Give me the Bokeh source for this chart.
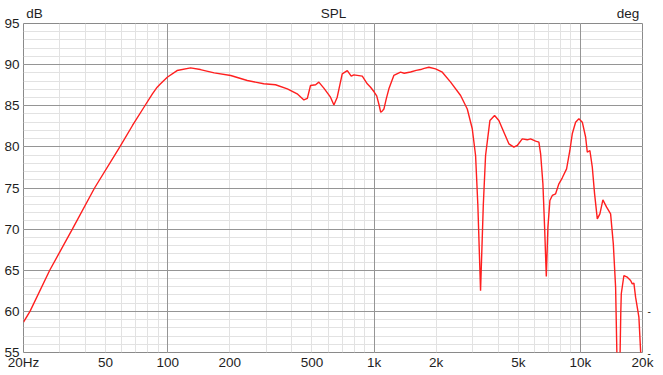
from bokeh.plotting import figure
from bokeh.models import (Range1d, LogScale, Grid, FixedTicker, LinearAxis, LogAxis)
from bokeh.embed import file_html
from bokeh.resources import INLINE

# ---- data ----
freq_hz = [20, 21.5, 26.8, 34.5, 44.2, 58.6, 67.5, 77.5, 84.3, 88.9, 92.3, 99.5, 111, 129, 144, 168,
           202, 243, 292, 333, 380, 424, 457, 475, 492, 521, 540, 571, 615, 639, 663, 701, 742,
           775, 798, 877, 927, 962, 1000, 1030, 1060, 1077, 1100, 1116, 1145, 1180, 1247, 1344,
           1400, 1503, 1600, 1681, 1750, 1844, 1987, 2142, 2350, 2627, 2830, 2992, 3105, 3185,
           3282, 3384, 3471, 3643, 3838, 4026, 4258, 4502, 4760, 4944, 5228, 5528, 5736, 6066,
           6294, 6416, 6582, 6708, 6836, 6960, 7116, 7310, 7584, 7868, 8172, 8572, 8892, 9134,
           9480, 9834, 10216, 10600, 10802, 11118, 11422, 11718, 12078, 12432, 12854, 13398,
           14010, 14440, 14814, 15050, 15250, 15500, 15700, 15784, 16250, 16878, 17512, 17846,
           18168, 18516, 19210, 19580, 20000]
spl_db = [58.7, 60.0, 65.0, 70.0, 75.0, 80.0, 82.6, 85.0, 86.45, 87.26, 87.67, 88.47, 89.28, 89.6,
          89.4, 89.0, 88.68, 88.07, 87.67, 87.55, 87.06, 86.45, 85.7, 85.9, 87.46, 87.55, 87.87,
          87.14, 86.04, 85.1, 86.04, 88.88, 89.28, 88.6, 88.76, 88.6, 87.67, 87.25, 86.7, 86.2,
          85.0, 84.2, 84.4, 84.6, 85.8, 87.06, 88.68, 89.08, 88.95, 89.1, 89.3, 89.4, 89.55, 89.68,
          89.49, 89.08, 87.87, 86.25, 84.6, 82.2, 78.95, 72.9, 62.5, 72.9, 78.95, 83.2, 83.81,
          83.2, 81.78, 80.37, 79.96, 80.17, 80.98, 80.86, 80.98, 80.69, 80.57, 79.16, 75.51,
          70.23, 64.24, 70.23, 73.48, 74.09, 74.29, 75.51, 76.24, 77.33, 79.56, 81.59, 83.0,
          83.41, 83.0, 81.2, 79.35, 79.56, 77.53, 74.29, 71.25, 71.86, 73.56, 72.67, 71.86,
          68.21, 62.94, 54.0, 48.0, 52.0, 60.0, 62.14, 64.36, 64.15, 63.75, 63.35, 63.43, 61.73,
          59.3, 55.2, 52.0]

y_ticks = [55, 60, 65, 70, 75, 80, 85, 90, 95]
y_tick_labels = ["55", "60", "65", "70", "75", "80", "85", "90", "95"]
x_ticks = [20, 50, 100, 200, 500, 1000, 2000, 5000, 10000, 20000]
x_tick_labels = ["20Hz", "50", "100", "200", "500", "1k", "2k", "5k", "10k", "20k"]
x_major_grid = [100, 1000, 10000]
x_minor_grid = [30, 40, 50, 60, 70, 80, 90, 200, 300, 400, 500, 600, 700, 800, 900,
                2000, 3000, 4000, 5000, 6000, 7000, 8000, 9000]
y_major_grid = [60, 65, 70, 75, 80, 85, 90]
y_minor_grid = [v for v in range(56, 95) if v % 5 != 0]
title_text = "SPL"
left_unit = "dB"
right_unit = "deg"
right_marks = [55, 60]

FONT = "Liberation Sans"
FS = "13.5px"
TXT = "#1e1e1e"

p = figure(frame_width=619, frame_height=329,
           x_range=Range1d(20, 20000), y_range=Range1d(55, 95),
           x_axis_type="log", x_axis_location=None, y_axis_location=None,
           output_backend="svg", toolbar_location=None,
           min_border_left=23, min_border_right=21, min_border_top=23, min_border_bottom=23)
p.x_scale = LogScale()
p.background_fill_color = "white"
p.border_fill_color = "white"
p.outline_line_color = "#8a8a8a"
p.outline_line_width = 1

for dim, ticks, col in [(0, x_minor_grid, "#e2e2e2"), (1, y_minor_grid, "#e2e2e2"),
                        (0, x_major_grid, "#959595"), (1, y_major_grid, "#959595")]:
    p.add_layout(Grid(dimension=dim, ticker=FixedTicker(ticks=ticks),
                      grid_line_color=col, grid_line_width=1))

p.line(freq_hz, spl_db, line_color="#ff1f1f", line_width=1.4)


def style(ax, standoff):
    ax.axis_line_color = None
    ax.major_tick_line_color = None
    ax.minor_tick_line_color = None
    ax.major_tick_in = 0
    ax.major_tick_out = 0
    ax.major_label_standoff = standoff
    ax.major_label_text_font = FONT
    ax.major_label_text_font_size = FS
    ax.major_label_text_color = TXT
    return ax


yax = LinearAxis(ticker=FixedTicker(ticks=y_ticks),
                 major_label_overrides={t: s for t, s in zip(y_ticks, y_tick_labels)})
p.add_layout(style(yax, 4), "left")

xax = LogAxis(ticker=FixedTicker(ticks=x_ticks),
              major_label_overrides={t: s for t, s in zip(x_ticks, x_tick_labels)})
p.add_layout(style(xax, 2), "below")

# top texts: unit labels and title, placed via a top axis
top_pos = [22.6, 636.6, 17030]
top_txt = [left_unit, title_text, right_unit]
tax = LogAxis(ticker=FixedTicker(ticks=top_pos),
              major_label_overrides={t: s for t, s in zip(top_pos, top_txt)})
p.add_layout(style(tax, 3), "above")

rax = LinearAxis(ticker=FixedTicker(ticks=right_marks),
                 major_label_overrides={t: "-" for t in right_marks})
style(rax, 5)
rax.major_label_text_font_size = "10px"
p.add_layout(rax, "right")

open("out.html", "w").write(file_html(p, INLINE))
